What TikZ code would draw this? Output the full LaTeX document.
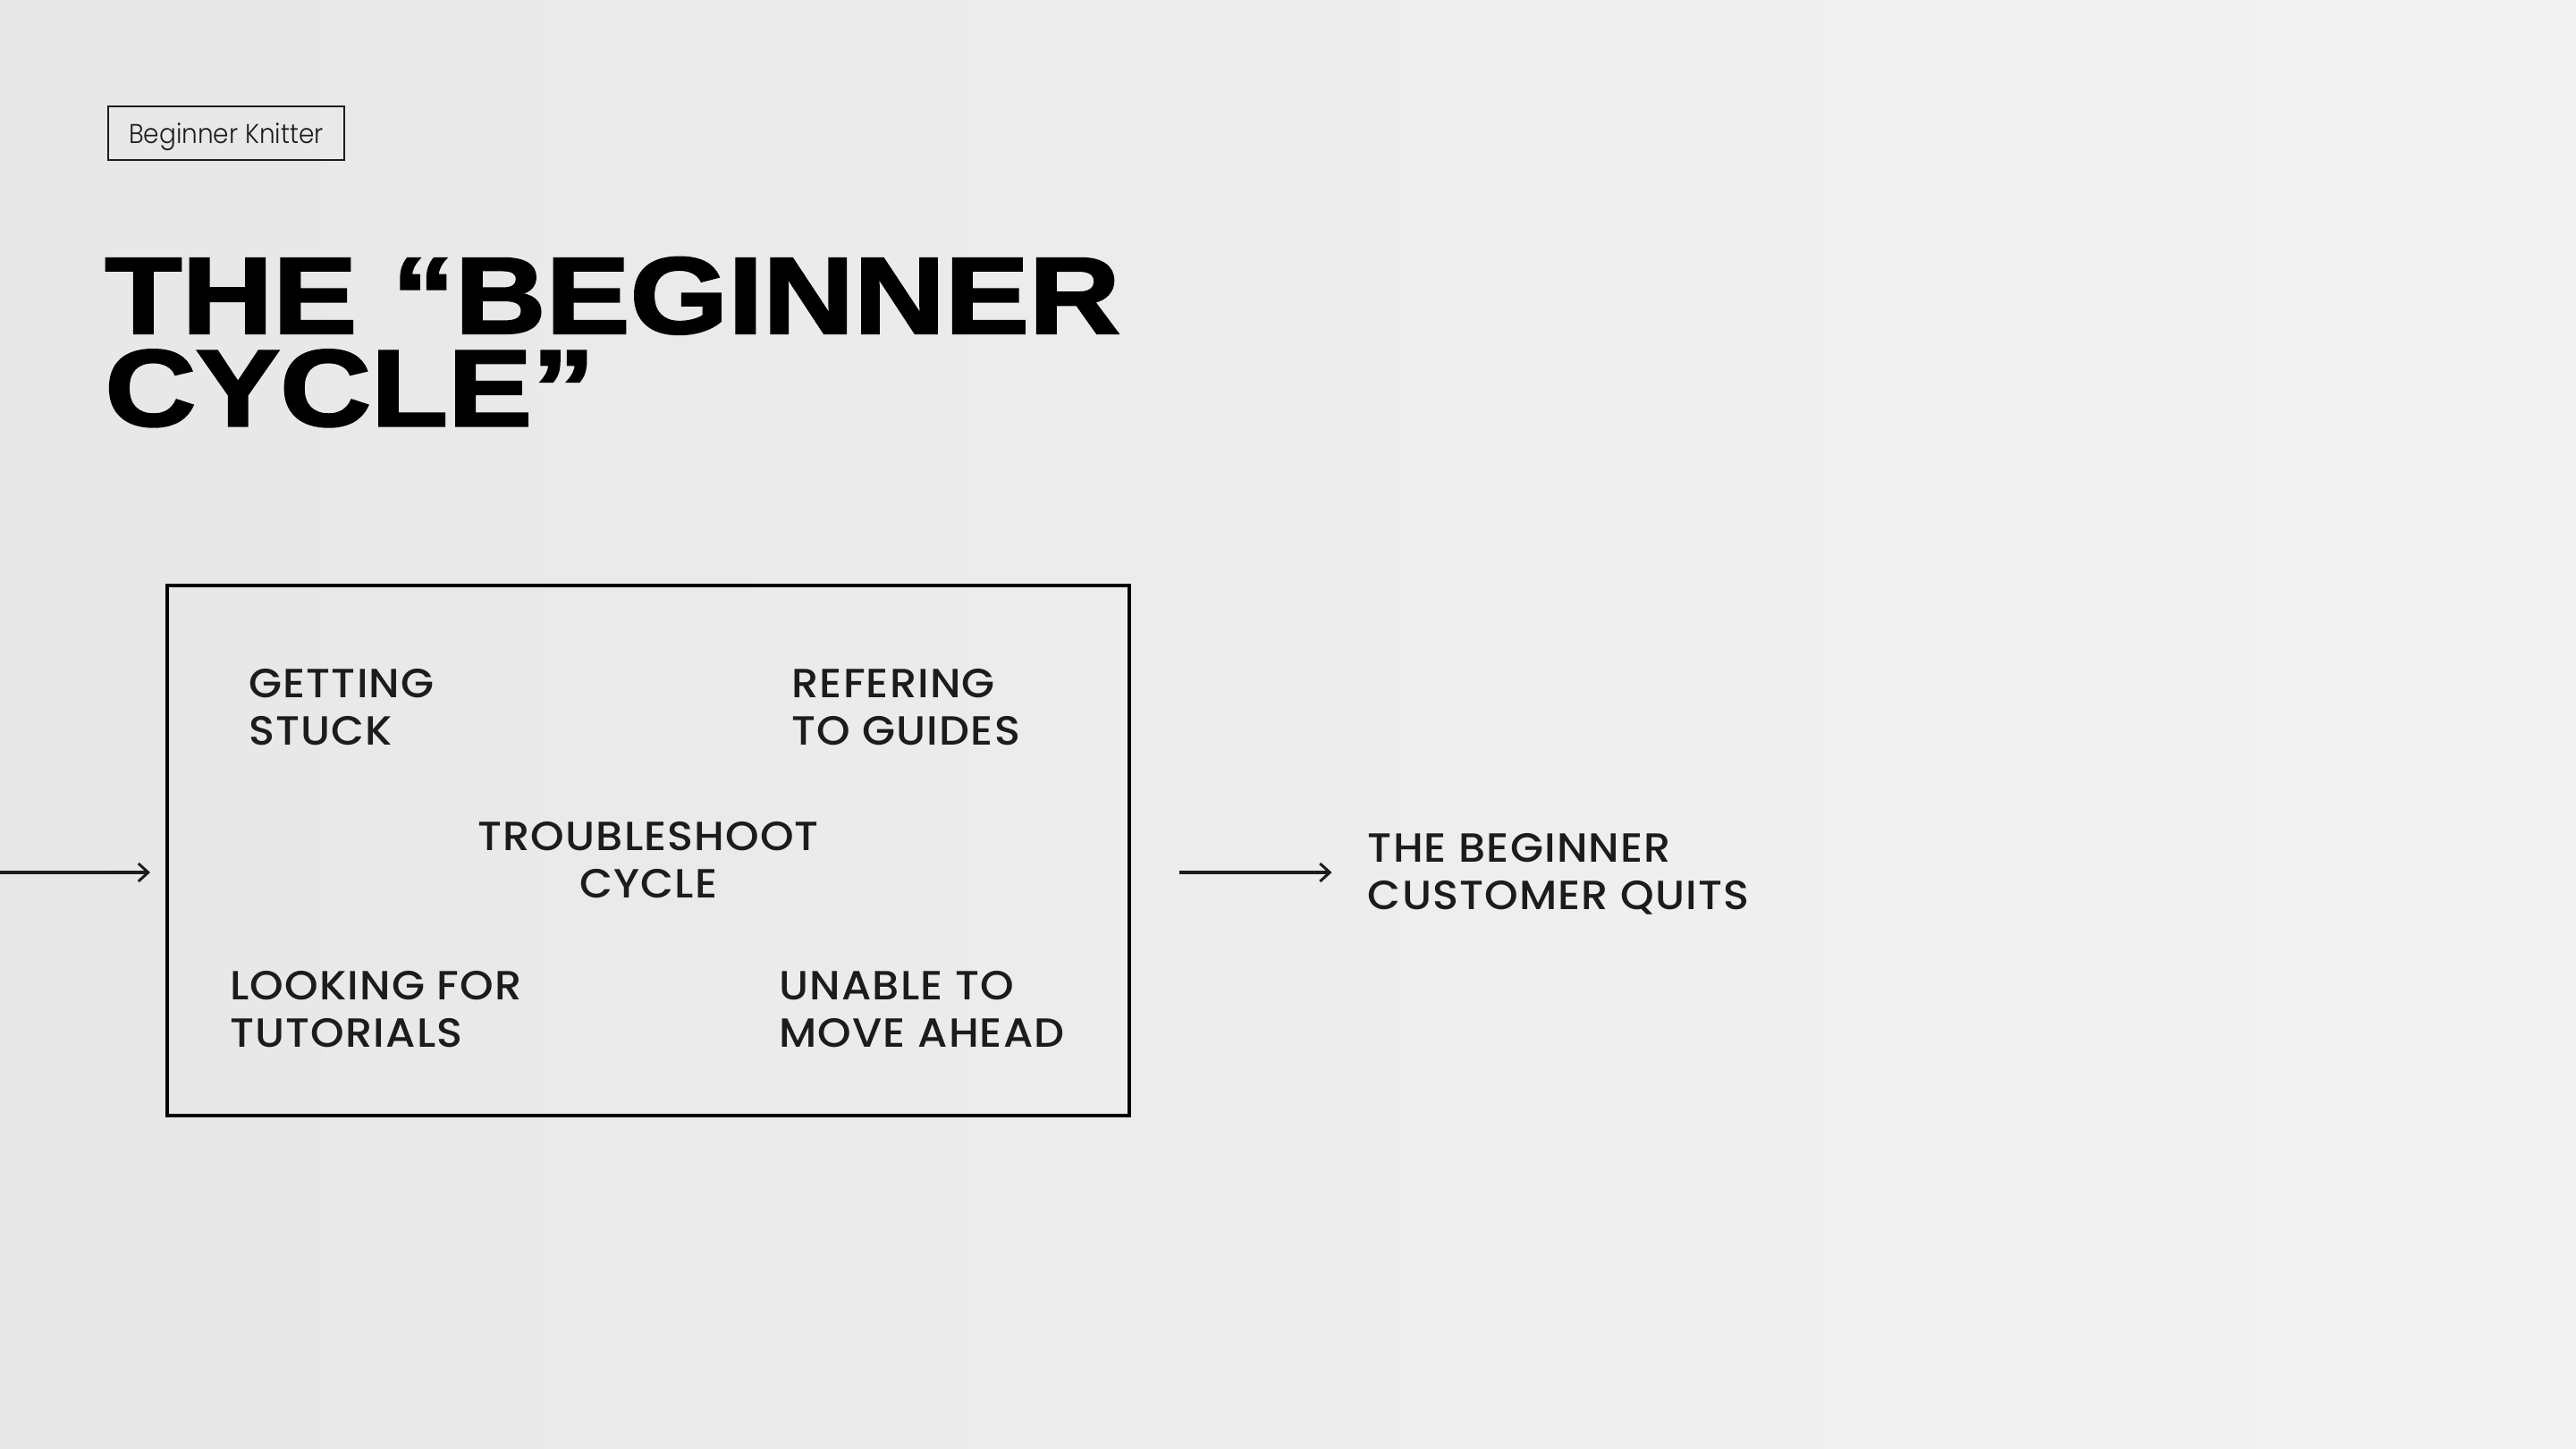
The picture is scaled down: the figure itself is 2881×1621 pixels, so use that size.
\documentclass[tikz,border=0pt]{standalone}
\usepackage{fontspec}
\usetikzlibrary{arrows.meta}
\newfontfamily\titlefont{Liberation Sans Bold}[FakeStretch=1.16,FakeBold=2.2]
\newfontfamily\lblfont{Poppins Medium}[FakeStretch=1.05,LetterSpace=2.5]
\newfontfamily\tagfont{Poppins Light}[FakeStretch=0.92]
\definecolor{bgleft}{RGB}{231,231,231}
\definecolor{bgright}{RGB}{243,243,243}
\definecolor{ink}{RGB}{28,28,28}
\tikzset{
  lbl/.style={inner sep=0pt, anchor=base west, align=left, text=ink,
    font=\lblfont\fontsize{22.8pt}{26.5pt}\selectfont},
  arr/.style={draw=ink, line width=1.75pt, -{Straight Barb[length=5.5pt,width=10pt,line width=1.5pt]}},
}
\begin{document}
\begin{tikzpicture}[x=0.5pt,y=-0.5pt]
\useasboundingbox (0,0) rectangle (2881,1621);
\shade[left color=bgleft, right color=bgright] (0,0) rectangle (2881,1621);
% tag
\node (tag) [draw=ink, line width=1pt, minimum width=132pt, minimum height=30pt,
  text height=10.85pt, text depth=0pt, inner sep=0pt,
  font=\tagfont\fontsize{15.2pt}{18pt}\selectfont, text=ink] at (252.9,149.2) {Beginner Knitter};
% title (base anchor = baseline of last line)
\node (title) [inner sep=0pt, anchor=base west, align=left, text=black,
  font=\titlefont\fontsize{60.75pt}{51.75pt}\selectfont] at (117,476.2)
  {THE “BEGINNER\\CYCLE”};
% cycle box
\node (box) [draw=black, line width=2.2pt, minimum width=538pt, minimum height=296.5pt, inner sep=0pt]
  at (725.2,951.5) {};
\node (stuck) [lbl] at (278,833) {GETTING\\STUCK};
\node (guides) [lbl] at (885,833) {REFERING\\TO GUIDES};
\node (trouble) [lbl, anchor=base, align=center] at (725.2,1004.2) {TROUBLESHOOT\\CYCLE};
\node (tutorials) [lbl] at (257,1171.5) {LOOKING FOR\\TUTORIALS};
\node (unable) [lbl] at (871,1171.5) {UNABLE TO\\MOVE AHEAD};
\node (quits) [lbl] at (1529.5,1017.5) {THE BEGINNER\\CUSTOMER QUITS};
% arrows
\coordinate (inL) at (0,976);
\draw[arr, shorten >=8.5pt] (inL) -- (inL -| box.west);
\draw[arr, shorten <=27pt, shorten >=20pt] (box.east |- inL) -- (quits.west |- inL);
\end{tikzpicture}
\end{document}
